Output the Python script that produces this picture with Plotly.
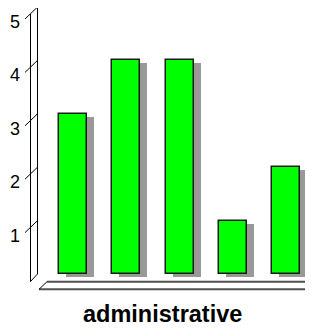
import plotly.graph_objects as go

# ---- data ----
categories = ["c1", "c2", "c3", "c4", "c5"]
values = [3, 4, 4, 1, 2]
tick_values = [1, 2, 3, 4, 5]
tick_labels = ["1", "2", "3", "4", "5"]
x_title = "administrative"

# ---- geometry ----
# the page body has an 8px margin; positions below are page pixels
OFF = 8
W, H = 313 - OFF, 330 - OFF
L, R, T, B = 38 - OFF, 3, 0, 53
PW, PH = W - L - R, H - T - B
SHADOW_DX, SHADOW_DY = 7, 3
ex = SHADOW_DX / PW
ey = SHADOW_DY / PH
UNIT_Y = 53.4
YTOP = (PH - SHADOW_DY) / UNIT_Y
UNIT_X = 53.3
x0 = -35 / UNIT_X
xrange = [x0, x0 + PW * (1 - ex) / UNIT_X]

def px2p(px):
    return (px - OFF - L) / PW

def py2p(py):
    return (H - B - (py - OFF)) / PH

def val2p(v):
    return ey + (1 - ey) * v / YTOP

fig = go.Figure()

# shadow bars (drawn underneath)
fig.add_trace(go.Bar(
    x=categories, y=values, width=0.525,
    marker=dict(color="#999999", line=dict(width=0)),
    xaxis="x", yaxis="y", hoverinfo="skip", showlegend=False,
))
# main bars
fig.add_trace(go.Bar(
    x=categories, y=values, width=0.525,
    marker=dict(color="#00FF00", line=dict(color="#1a1a1a", width=1.5)),
    xaxis="x2", yaxis="y2", showlegend=False,
))

ax_common = dict(showgrid=False, zeroline=False, showticklabels=False,
                 showline=False, ticks="", fixedrange=True)

shapes = []
line_k = dict(color="black", width=1)
outer_x = px2p(30.5)
inner_x = px2p(37.5)
shapes.append(dict(type="line", xref="paper", yref="paper",
                   x0=inner_x, y0=val2p(0), x1=inner_x, y1=val2p(5), line=line_k))
shapes.append(dict(type="line", xref="paper", yref="paper",
                   x0=outer_x, y0=val2p(0) - 7.5 / PH, x1=outer_x,
                   y1=val2p(5) - 7 / PH, line=line_k))
shapes.append(dict(type="line", xref="paper", yref="paper",
                   x0=outer_x, y0=val2p(0) - 7.5 / PH, x1=inner_x, y1=val2p(0),
                   line=line_k))
annotations = []
for v, lab in zip(tick_values, tick_labels):
    shapes.append(dict(type="line", xref="paper", yref="paper",
                       x0=inner_x, y0=val2p(v), x1=px2p(25), y1=val2p(v) - 12 / PH,
                       line=line_k))
    annotations.append(dict(text=lab, xref="paper", yref="paper",
                            x=px2p(21.5), y=val2p(v) - 15 / PH,
                            xanchor="right", yanchor="middle", showarrow=False,
                            font=dict(family="Liberation Sans, Arial", size=18,
                                      color="black")))
# floor
floor_top, floor_bot = py2p(281.7), py2p(289.3)
shapes.append(dict(type="line", xref="paper", yref="paper",
                   x0=px2p(47), y0=floor_top, x1=px2p(313), y1=floor_top,
                   line=dict(color="#505050", width=2)))
shapes.append(dict(type="line", xref="paper", yref="paper",
                   x0=px2p(39), y0=floor_bot, x1=px2p(305), y1=floor_bot,
                   line=dict(color="#505050", width=2)))
shapes.append(dict(type="line", xref="paper", yref="paper",
                   x0=px2p(39), y0=floor_bot, x1=px2p(47), y1=floor_top,
                   line=line_k))
shapes.append(dict(type="line", xref="paper", yref="paper",
                   x0=px2p(305), y0=floor_bot, x1=px2p(313), y1=floor_top,
                   line=line_k))

annotations.append(dict(text="<b>%s</b>" % x_title, xref="paper", yref="paper",
                        x=px2p(162.5), y=py2p(313.5), xanchor="center",
                        yanchor="middle", showarrow=False,
                        font=dict(family="Liberation Sans, Arial", size=23.5,
                                  color="black")))

fig.update_layout(
    width=W, height=H,
    margin=dict(l=L, r=R, t=T, b=B, pad=0),
    paper_bgcolor="white", plot_bgcolor="rgba(0,0,0,0)",
    bargap=0,
    xaxis=dict(domain=[ex, 1], range=xrange, anchor="y", **ax_common),
    yaxis=dict(domain=[0, 1 - ey], range=[0, YTOP], anchor="x", **ax_common),
    xaxis2=dict(domain=[0, 1 - ex], range=xrange, anchor="y2", **ax_common),
    yaxis2=dict(domain=[ey, 1], range=[0, YTOP], anchor="x2", **ax_common),
    shapes=shapes, annotations=annotations,
    showlegend=False,
)

fig.write_html("out.html", config={"displayModeBar": False})
